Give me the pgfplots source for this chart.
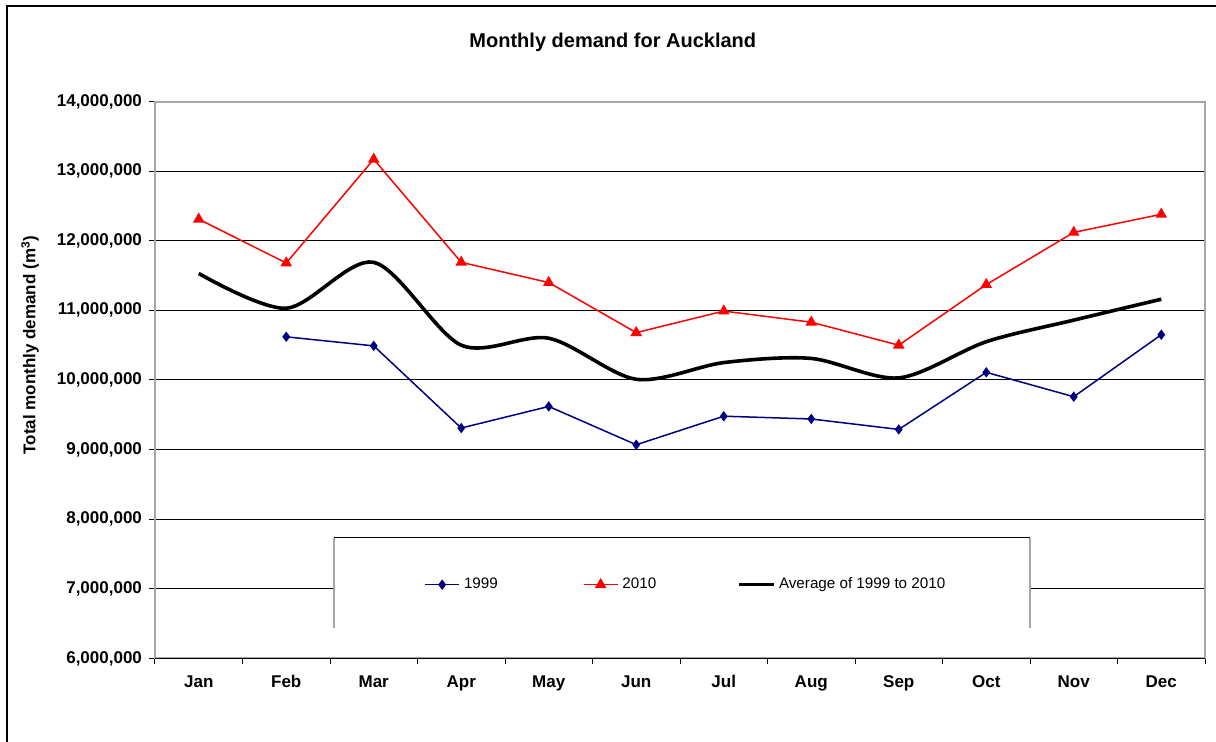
\documentclass[border=0pt]{standalone}
\usepackage{fontspec}
\setmainfont{Liberation Sans}
\usepackage{pgfplots}
\pgfplotsset{compat=1.18}
\definecolor{navyb}{RGB}{0,0,128}
\definecolor{redb}{RGB}{255,0,0}
\begin{document}
\begin{tikzpicture}[x=1pt,y=1pt]
\path[use as bounding box] (0,0) rectangle (608,371);
\draw[line width=1pt] (3.5,-20) -- (3.5,368) -- (650,368);
\begin{axis}[
 at={(77.5pt,41.75pt)}, anchor=south west,
 scale only axis, width=525pt, height=278.5pt,
 xmin=0.5, xmax=12.5, ymin=6000000, ymax=14000000,
 xtick={1,...,12},
 xticklabels={Jan,Feb,Mar,Apr,May,Jun,Jul,Aug,Sep,Oct,Nov,Dec},
 major x tick style={draw=none},
 minor xtick={0.5,1.5,...,12.5},
 ytick={6000000,7000000,...,14000000},
 tick pos=left,
 ymajorgrids, grid style={black, line width=0.5pt},
 tick align=outside, major tick length=3pt, minor tick length=3pt,
 tick style={black, line width=0.5pt},
 axis line style={draw=gray!70, line width=1pt},
 scaled y ticks=false,
 yticklabel style={/pgf/number format/.cd, fixed, 1000 sep={,}, assume math mode=true},
 ticklabel style={font=\fontsize{8.5}{10}\selectfont\bfseries},
 xticklabel style={yshift=-2pt},
 title={Monthly demand for Auckland},
 title style={font=\fontsize{10}{12}\selectfont\bfseries, at={(rel axis cs:0.436,1.085)}, anchor=center},
 ylabel={Total monthly demand (m\textsuperscript{3})},
 ylabel style={font=\fontsize{8.5}{10}\selectfont\bfseries, at={(rel axis cs:-0.119,0.563)}, anchor=center},
 legend columns=3,
 legend style={at={(axis cs:3.574,7060000)}, anchor=west, draw=none, fill=none,
   font=\fontsize{7.6}{9}\selectfont, inner sep=0pt,
   /tikz/column 2/.style={column sep=40.5pt},
   /tikz/column 4/.style={column sep=38.5pt}},
 legend entries={1999,2010,Average of 1999 to 2010},
]
\addplot[navyb, line width=0.75pt, mark=diamond*, mark size=2pt, mark options={solid, fill=navyb}] coordinates {
 (2,10620000) (3,10490000) (4,9310000) (5,9620000) (6,9070000) (7,9480000)
 (8,9440000) (9,9290000) (10,10110000) (11,9760000) (12,10650000)};
\addplot[redb, line width=0.75pt, mark=triangle*, mark size=2.6pt, mark options={solid, fill=redb}] coordinates {
 (1,12310000) (2,11680000) (3,13170000) (4,11690000) (5,11400000) (6,10680000)
 (7,10990000) (8,10830000) (9,10500000) (10,11370000) (11,12120000) (12,12380000)};
\addplot[black, line width=1.8pt, smooth, no markers] coordinates {
 (1,11530000) (2,11030000) (3,11690000) (4,10500000) (5,10600000) (6,10010000)
 (7,10250000) (8,10310000) (9,10030000) (10,10550000) (11,10860000) (12,11160000)};
\fill[white] (axis cs:2.546,6438000) rectangle (axis cs:10.5,7731000);
\draw[black, line width=0.5pt] (axis cs:2.546,7731000) -- (axis cs:10.5,7731000);
\draw[gray!70, line width=1pt] (axis cs:2.546,7731000) -- (axis cs:2.546,6438000);
\draw[gray!70, line width=1pt] (axis cs:10.5,7731000) -- (axis cs:10.5,6438000);
\draw[gray!70, line width=1pt] (rel axis cs:0,1) -- (rel axis cs:1,1) -- (rel axis cs:1,0);
\draw[black, line width=0.8pt] (rel axis cs:0,0) -- (rel axis cs:1,0);
\end{axis}
\end{tikzpicture}
\end{document}
